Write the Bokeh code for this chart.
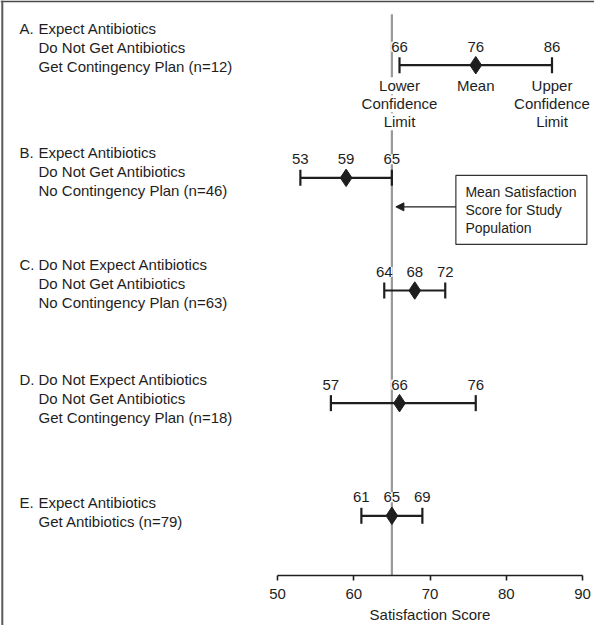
import math
from bokeh.plotting import figure
from bokeh.models import (Range1d, FixedTicker, ColumnDataSource, LabelSet, Label,
                          Arrow, NormalHead, Span, BoxAnnotation, LinearAxis)
from bokeh.core.properties import value
from bokeh.embed import file_html
from bokeh.resources import INLINE

# ---------------- data ----------------
group_letters = ["A.", "B.", "C.", "D.", "E."]
group_lines = [
    ["Expect Antibiotics", "Do Not Get Antibiotics", "Get Contingency Plan (n=12)"],
    ["Expect Antibiotics", "Do Not Get Antibiotics", "No Contingency Plan (n=46)"],
    ["Do Not Expect Antibiotics", "Do Not Get Antibiotics", "No Contingency Plan (n=63)"],
    ["Do Not Expect Antibiotics", "Do Not Get Antibiotics", "Get Contingency Plan (n=18)"],
    ["Expect Antibiotics", "Get Antibiotics (n=79)"],
]
lower_ci = [66, 53, 64, 57, 61]
mean_score = [76, 59, 68, 66, 65]
upper_ci = [86, 65, 72, 76, 69]
overall_mean = 65
x_ticks = [50, 60, 70, 80, 90]
x_title = "Satisfaction Score"
key_lower = ["Lower", "Confidence", "Limit"]
key_mean = ["Mean"]
key_upper = ["Upper", "Confidence", "Limit"]
ref_note = ["Mean Satisfaction", "Score for Study", "Population"]

# ---------------- layout (pixels) ----------------
W, H = 594, 625
PPU = 305 / 40.0        # pixels per score unit
X50_PAGE = 285          # page x of the first tick
ROW0_PAGE = 72.7        # page y of first row
ROW_STEP = 112.65       # pixels between rows
AXIS_PAGE = 583         # page y of axis line
FONT = "Liberation Sans"
INK = "#1e1e1e"
FS = "15px"

x_start = x_ticks[0] - (X50_PAGE - 8) / PPU
x_end = x_start + W / PPU
y_top = -(ROW0_PAGE - 8) / ROW_STEP
y_bot = y_top + H / ROW_STEP


def xu(px):
    return px / PPU


def yu(px):
    return px / ROW_STEP


def page_x(px):
    return x_start + (px - 8) / PPU


def page_y(py):
    return y_top + (py - 8) / ROW_STEP


rows = list(range(len(mean_score)))

p = figure(width=W, height=H, x_range=Range1d(x_start, x_end), y_range=Range1d(y_bot, y_top),
           output_backend="svg", toolbar_location=None, min_border=0,
           x_axis_location=None, y_axis_location=None)
p.outline_line_color = None
p.grid.grid_line_color = None
p.background_fill_color = "white"
p.border_fill_color = "white"

# frame lines (top / left)
p.add_layout(Span(location=page_y(8.8), dimension="width", line_color="#4a4a4a", line_width=1.8))
p.add_layout(Span(location=page_x(9.8), dimension="height", line_color="#5a5a5a", line_width=2))

# axis
axis = LinearAxis(ticker=FixedTicker(ticks=x_ticks), bounds=(x_ticks[0], x_ticks[-1]),
                  fixed_location=page_y(AXIS_PAGE))
axis.axis_line_color = INK
axis.axis_line_width = 1.6
axis.major_tick_line_color = INK
axis.major_tick_line_width = 1.6
axis.major_tick_in = 0
axis.major_tick_out = 5
axis.minor_tick_line_color = None
axis.major_label_text_font = FONT
axis.major_label_text_font_size = FS
axis.major_label_text_color = INK
axis.major_label_standoff = 8
p.add_layout(axis, "below")

p.add_layout(Label(x=(x_ticks[0] + x_ticks[-1]) / 2, y=page_y(621.7), text=x_title,
                   text_font=FONT, text_font_size=FS, text_color=INK,
                   text_align="center", text_baseline="middle"))

# reference line (overall mean)
p.segment(x0=[overall_mean], y0=[page_y(21.7)], x1=[overall_mean], y1=[page_y(AXIS_PAGE)],
          line_color="#999999", line_width=2.2)

# error bars
p.segment(x0=lower_ci, y0=rows, x1=upper_ci, y1=rows, line_color=INK, line_width=2.2)
p.scatter(x=lower_ci + upper_ci, y=rows + rows, marker="dash", size=16, angle=math.pi / 2,
          line_color=INK, line_width=2.2)
p.scatter(x=mean_score, y=rows, marker="diamond", size=17.5, fill_color=INK, line_color=INK)

# value labels above each bar
vx, vy, vt = [], [], []
for i in rows:
    for v in (lower_ci[i], mean_score[i], upper_ci[i]):
        vx.append(v)
        vy.append(i + yu(-18.5))
        vt.append(str(v))
p.add_layout(LabelSet(x="x", y="y", text="t", source=ColumnDataSource(dict(x=vx, y=vy, t=vt)),
                      text_font=value(FONT), text_font_size=FS, text_color=INK,
                      text_align="center", text_baseline="middle",
                      background_fill_color="white"))

# key labels under row A
kx, ky, kt = [], [], []
for xv, lines in ((lower_ci[0], key_lower), (mean_score[0], key_mean), (upper_ci[0], key_upper)):
    for k, s in enumerate(lines):
        kx.append(xv)
        ky.append(rows[0] + yu(20.5 + 18 * k))
        kt.append(s)
p.add_layout(LabelSet(x="x", y="y", text="t", source=ColumnDataSource(dict(x=kx, y=ky, t=kt)),
                      text_font=value(FONT), text_font_size=FS, text_color=INK,
                      text_align="center", text_baseline="middle",
                      background_fill_color="white"))

# group labels on the left
first_line_offset = [-36.5, -25, -26, -24, -13]
LINE_STEP = 19
gx, gy, gt = [], [], []
for i in rows:
    gx.append(page_x(27))
    gy.append(i + yu(first_line_offset[i]))
    gt.append(group_letters[i])
    for k, s in enumerate(group_lines[i]):
        gx.append(page_x(46))
        gy.append(i + yu(first_line_offset[i] + LINE_STEP * k))
        gt.append(s)
p.text(x=gx, y=gy, text=gt, text_font=value(FONT), text_font_size=FS, text_color=INK,
       text_align="left", text_baseline="middle")

# note box with arrow pointing at the reference line
box_left = overall_mean + xu(64)
box_right = overall_mean + xu(195)
p.add_layout(BoxAnnotation(left=box_left, right=box_right,
                           top=rows[1] + yu(-2.4), bottom=rows[1] + yu(66.6),
                           fill_color="white", fill_alpha=1.0,
                           line_color="#333333", line_alpha=1.0, line_width=1.2))
for k, s in enumerate(ref_note):
    p.add_layout(Label(x=box_left + xu(9.5), y=rows[1] + yu(14 + 18.3 * k), text=s,
                       text_font=FONT, text_font_size="14px", text_color=INK,
                       text_align="left", text_baseline="middle"))
p.add_layout(Arrow(end=NormalHead(size=8, fill_color=INK, line_color=INK, line_width=1),
                   x_start=box_left, y_start=rows[1] + yu(29),
                   x_end=overall_mean + xu(4), y_end=rows[1] + yu(29),
                   line_color=INK, line_width=1.3))

open("out.html", "w").write(file_html(p, INLINE))
